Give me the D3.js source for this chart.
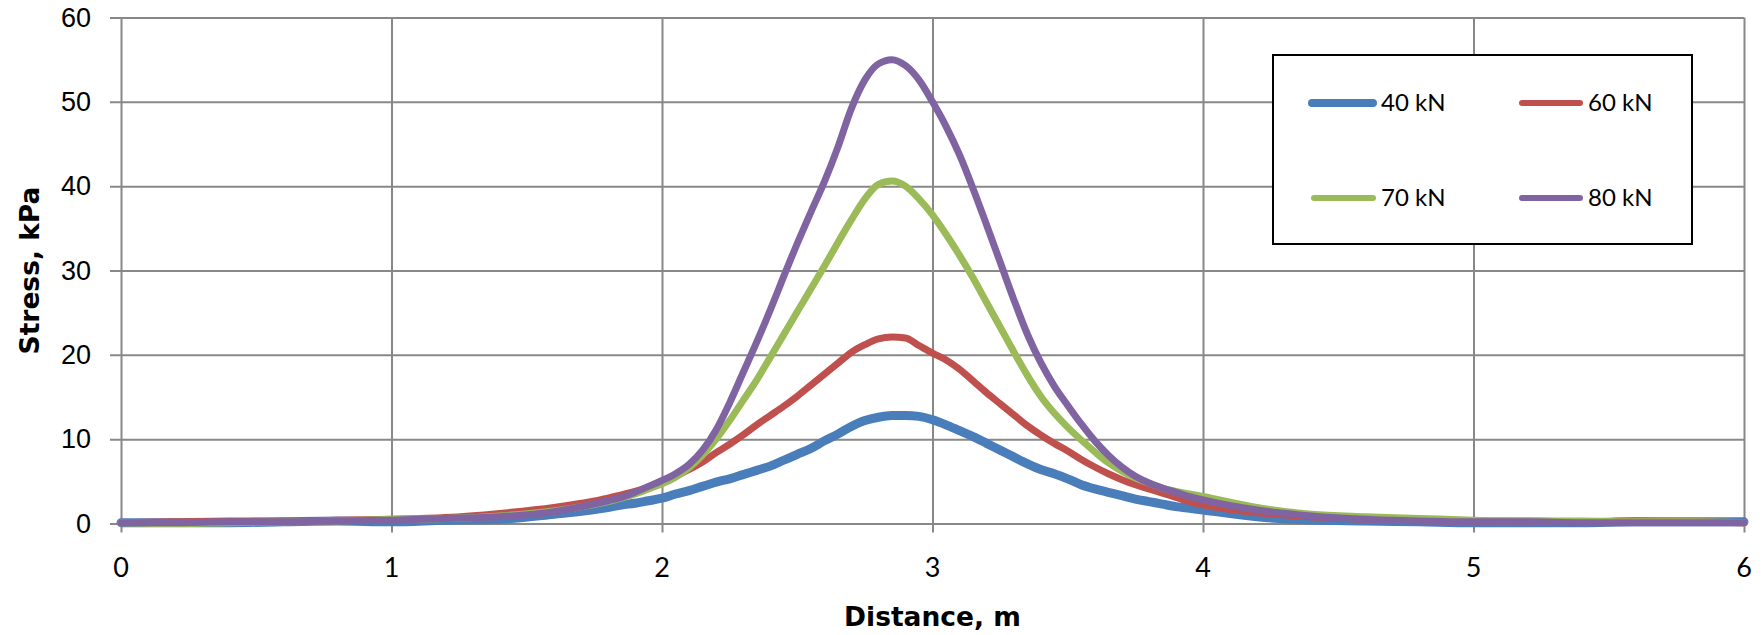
<!DOCTYPE html>
<html lang="en">
<head>
<meta charset="UTF-8">
<title>Stress vs Distance</title>
<script src="https://d3js.org/d3.v7.min.js"></script>
<style>
    body { margin: 0; background: #fff; }
    svg { display: block; font-family: Lato, 'Open Sans', sans-serif; }
    .grid line { stroke: #888; stroke-width: 2; }
    .grid path { display: none; }
    .axis path { display: none; }
    .axis line { stroke: #888; stroke-width: 2; }
    .axis text, .xlabel { font-size: 27px; fill: #000; }
    .title { font-family: 'DejaVu Sans', sans-serif; font-size: 26.5px; font-weight: bold; fill: #000; }
    .legend text { font-size: 24px; fill: #000; }
</style>
</head>
<body>
<svg id="chart"></svg>
<script>
    const width = 1763;
    const height = 635;

    // distance, m (shared by all series)
    const distance = [
        0, 0.2, 0.4, 0.6, 0.8, 1.0, 1.2, 1.4, 1.6,
        1.8, 1.85, 1.9, 1.95, 2.0, 2.05, 2.1, 2.15, 2.2, 2.25,
        2.3, 2.35, 2.4, 2.45, 2.5, 2.55, 2.6, 2.65, 2.7, 2.75,
        2.8, 2.85, 2.9, 2.95, 3.0, 3.05, 3.1, 3.15, 3.2, 3.25,
        3.3, 3.35, 3.4, 3.45, 3.5, 3.55, 3.6, 3.65, 3.7, 3.75,
        3.8, 3.85, 3.9, 3.95, 4.0,
        4.2, 4.4, 4.6, 4.8, 5.0, 5.2, 5.4, 5.6, 5.8, 6.0
    ];

    // stress, kPa
    const stress40 = [
        0.1, 0.1, 0.1, 0.2, 0.3, 0.2, 0.4, 0.5, 1.1,
        1.9, 2.2, 2.4, 2.7, 3.0, 3.5, 3.9, 4.4, 4.9, 5.3,
        5.8, 6.3, 6.8, 7.5, 8.2, 8.9, 9.8, 10.6, 11.5, 12.2,
        12.6, 12.8, 12.8, 12.7, 12.3, 11.7, 11.0, 10.3, 9.5, 8.7,
        7.9, 7.1, 6.4, 5.9, 5.3, 4.6, 4.1, 3.7, 3.3, 2.9,
        2.6, 2.3, 2.0, 1.8, 1.6,
        0.8, 0.4, 0.3, 0.2, 0.1, 0.1, 0.1, 0.2, 0.2, 0.2
    ];
    const stress60 = [
        0.1, 0.2, 0.3, 0.3, 0.4, 0.5, 0.7, 1.2, 1.9,
        3.0, 3.4, 3.8, 4.3, 4.9, 5.6, 6.4, 7.3, 8.4, 9.4,
        10.5, 11.7, 12.8, 13.9, 15.1, 16.4, 17.7, 19.0, 20.3, 21.2,
        21.9, 22.1, 22.0, 21.1, 20.2, 19.4, 18.3, 16.9, 15.5, 14.2,
        12.9, 11.6, 10.5, 9.5, 8.6, 7.6, 6.7, 5.9, 5.2, 4.6,
        4.1, 3.6, 3.1, 2.6, 2.2,
        1.3, 0.8, 0.5, 0.4, 0.3, 0.3, 0.2, 0.3, 0.2, 0.1
    ];
    const stress70 = [
        0.1, 0.0, 0.1, 0.2, 0.3, 0.5, 0.6, 0.9, 1.5,
        2.6, 3.0, 3.5, 4.1, 4.7, 5.5, 6.6, 8.1, 10.0, 12.2,
        14.6, 17.0, 19.7, 22.4, 25.1, 27.8, 30.5, 33.3, 36.0, 38.5,
        40.2, 40.6, 40.0, 38.5, 36.6, 34.3, 31.8, 29.1, 26.2, 23.3,
        20.4, 17.6, 15.1, 13.1, 11.4, 9.9, 8.5, 7.2, 6.2, 5.4,
        4.8, 4.2, 3.8, 3.5, 3.2,
        1.9, 1.1, 0.8, 0.6, 0.4, 0.3, 0.3, 0.2, 0.2, 0.1
    ];
    const stress80 = [
        0.1, 0.1, 0.2, 0.2, 0.3, 0.4, 0.6, 0.8, 1.4,
        2.7, 3.1, 3.7, 4.4, 5.1, 5.9, 7.0, 8.7, 11.1, 14.3,
        17.9, 21.5, 25.3, 29.3, 33.2, 36.9, 40.5, 44.6, 49.2, 52.6,
        54.5, 55.0, 54.3, 52.6, 50.0, 47.1, 43.7, 39.7, 35.4, 31.0,
        26.6, 22.5, 19.1, 16.3, 14.0, 11.8, 9.8, 8.1, 6.7, 5.6,
        4.8, 4.2, 3.7, 3.2, 2.8,
        1.6, 0.9, 0.5, 0.3, 0.2, 0.2, 0.1, 0.1, 0.1, 0.1
    ];

    const seriesNames = ["40 kN", "60 kN", "70 kN", "80 kN"];
    const seriesColors = ["#4a7ebb", "#c0504d", "#9bbb59", "#8064a2"];
    const seriesWidths = [9, 7, 7, 7];
    const seriesValues = [stress40, stress60, stress70, stress80];

    const xTicks = [0, 1, 2, 3, 4, 5, 6];
    const yTicks = [0, 10, 20, 30, 40, 50, 60];

    const plot = { left: 121, right: 1744, top: 17.5, bottom: 523.5 };

    const svg = d3.select("#chart")
        .attr("width", width)
        .attr("height", height);

    const x = d3.scaleLinear().domain([0, 6]).range([plot.left, plot.right]);
    const y = d3.scaleLinear().domain([0, 60]).range([plot.bottom, plot.top]);

    // gridlines (they run a little past the axes as tick marks)
    svg.append("g")
        .attr("class", "grid")
        .attr("transform", `translate(0,${plot.top})`)
        .call(d3.axisBottom(x).tickValues(xTicks).tickSize(plot.bottom - plot.top + 9).tickFormat(""));
    svg.append("g")
        .attr("class", "grid")
        .attr("transform", `translate(${plot.right},0)`)
        .call(d3.axisLeft(y).tickValues(yTicks).tickSize(plot.right - plot.left + 11).tickFormat(""));

    // y tick labels
    svg.append("g")
        .attr("class", "axis")
        .attr("transform", `translate(${plot.left},0)`)
        .call(d3.axisLeft(y).tickValues(yTicks).tickSize(0).tickPadding(30).tickFormat(d3.format("d")));

    // x tick labels
    svg.append("g")
        .selectAll("text")
        .data(xTicks)
        .join("text")
        .attr("class", "xlabel")
        .attr("x", d => x(d))
        .attr("y", plot.bottom + 44)
        .attr("dy", "0.35em")
        .attr("text-anchor", "middle")
        .text(d3.format("d"));

    // series
    const line = d3.line()
        .x((d, i) => x(distance[i]))
        .y(d => y(d))
        .curve(d3.curveMonotoneX);

    seriesValues.forEach((vals, k) => {
        svg.append("path")
            .datum(vals)
            .attr("fill", "none")
            .attr("stroke", seriesColors[k])
            .attr("stroke-width", seriesWidths[k])
            .attr("stroke-linejoin", "round")
            .attr("stroke-linecap", "round")
            .attr("d", line);
    });

    // axis titles
    svg.append("text")
        .attr("class", "title")
        .attr("x", (plot.left + plot.right) / 2)
        .attr("y", 617)
        .attr("dy", "0.35em")
        .attr("text-anchor", "middle")
        .text("Distance, m");

    svg.append("text")
        .attr("class", "title")
        .attr("transform", `translate(30,${(plot.top + plot.bottom) / 2}) rotate(-90)`)
        .attr("dy", "0.35em")
        .attr("text-anchor", "middle")
        .text("Stress, kPa");

    // legend
    const legend = svg.append("g").attr("class", "legend");
    legend.append("rect")
        .attr("x", 1273)
        .attr("y", 55)
        .attr("width", 419)
        .attr("height", 189)
        .attr("fill", "#fff")
        .attr("stroke", "#000")
        .attr("stroke-width", 2);

    const legendPos = [
        { x0: 1312, x1: 1373, y: 103 },
        { x0: 1522, x1: 1580, y: 103 },
        { x0: 1314, x1: 1373, y: 198 },
        { x0: 1522, x1: 1580, y: 198 }
    ];

    seriesNames.forEach((name, k) => {
        const p = legendPos[k];
        legend.append("line")
            .attr("x1", p.x0).attr("x2", p.x1)
            .attr("y1", p.y).attr("y2", p.y)
            .attr("stroke", seriesColors[k])
            .attr("stroke-width", k === 0 ? 8 : 6)
            .attr("stroke-linecap", "round");
        legend.append("text")
            .attr("x", p.x1 + 8)
            .attr("y", p.y)
            .attr("dy", "0.35em")
            .text(name);
    });
</script>
</body>
</html>
